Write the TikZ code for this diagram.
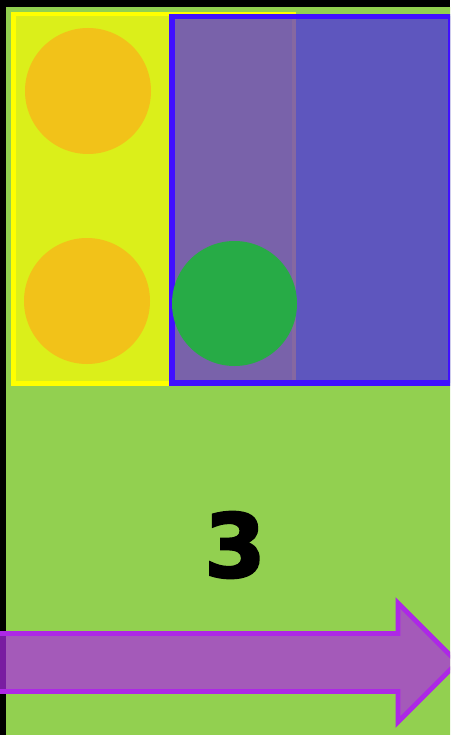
\documentclass[tikz,border=0pt]{standalone}
\usepackage{fontspec}
\setmainfont{DejaVu Sans}
\newfontfamily\heavyfont[FakeBold=2.5]{DejaVu Sans Bold}
\usepackage{xcolor}
\usepackage{tikz}

\definecolor{lawn}{HTML}{92D050}
\definecolor{lemon}{HTML}{FFFF00}
\definecolor{amber}{HTML}{F2C219}
\definecolor{indigo}{HTML}{4010FF}
\definecolor{leaf}{HTML}{27AB46}
\definecolor{violet}{HTML}{AD28E6}

\begin{document}
\begin{tikzpicture}[x=1pt, y=-1pt,
    panel/.style={line width=4.8pt, line join=miter},
    disc/.style={circle, minimum size=126pt, inner sep=0pt},
    numeral/.style={font=\fontsize{88}{88}\selectfont\heavyfont, inner sep=0pt},
    bigarrow/.style={draw=violet, fill=violet, fill opacity=0.7, line width=4.8pt, line join=miter}
]
\useasboundingbox (0,0) rectangle (450,735);
\clip (0,0) rectangle (450,735);
\fill[black] (0,0) rectangle (450,735);
\fill[lawn] (5.5,7.5) rectangle (470,760);
% yellow box with the two orange dots
\draw[panel, draw=lemon, fill=lemon, fill opacity=0.67] (13.5,14) rectangle (294,383.5);
\node[disc, fill=amber] (upper) at (88,91) {};
\node[disc, fill=amber] (lower) at (87,301) {};
% blue box on top
\draw[panel, line width=5.5pt, draw=indigo, fill=indigo, fill opacity=0.63] (172,16.5) rectangle (451,383);
\node[disc, minimum size=125pt, fill=leaf] (mid) at (234.5,303.5) {};
\node[numeral] (three) at (235,545) {3};
% arrow along the bottom
\draw[bigarrow] (-20,633.5) -- (398,633.5) -- (398,603) -- (457.5,662.5)
    -- (398,722) -- (398,691.5) -- (-20,691.5) -- cycle;
\end{tikzpicture}
\end{document}
